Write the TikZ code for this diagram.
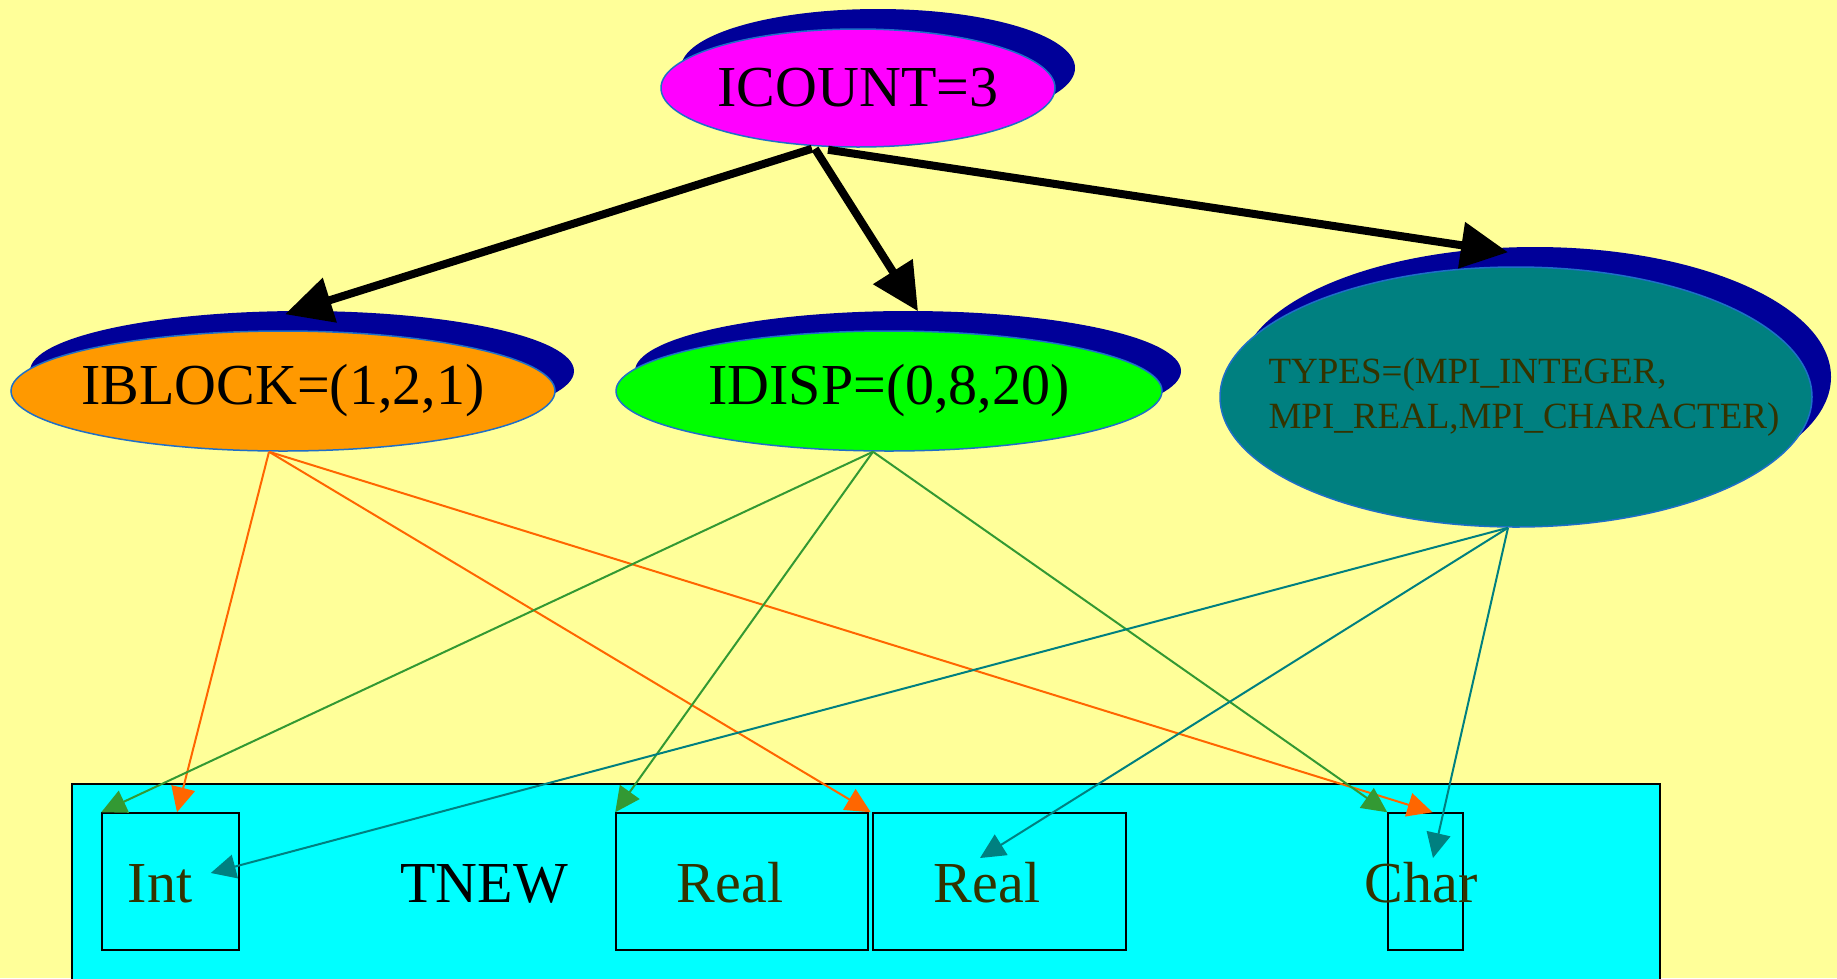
\documentclass[tikz,border=0pt]{standalone}
\usepackage{fontspec}
\setmainfont{Liberation Serif}
\usetikzlibrary{shapes.geometric,arrows.meta,calc}

\definecolor{bgyellow}{HTML}{FFFF99}
\definecolor{shadowblue}{HTML}{000099}
\definecolor{rimblue}{HTML}{1E6FC8}
\definecolor{nodemagenta}{HTML}{FF00FF}
\definecolor{nodeorange}{HTML}{FF9900}
\definecolor{nodegreen}{HTML}{00FF00}
\definecolor{nodeteal}{HTML}{008080}
\definecolor{clustercyan}{HTML}{00FFFF}
\definecolor{labelolive}{HTML}{333300}
\definecolor{edgeorange}{HTML}{FF6600}
\definecolor{edgegreen}{HTML}{339933}
\definecolor{edgeteal}{HTML}{008080}

\begin{document}
\begin{tikzpicture}[x=1pt,y=-1pt,
  % negative horizontal padding keeps the ellipse size fixed by minimum width
  oval/.style={ellipse, draw=rimblue, line width=1.5pt,
    inner xsep=-90pt, inner ysep=0pt,
    font=\fontsize{58}{70}\selectfont},
  shadowoval/.style={ellipse, fill=shadowblue, inner sep=0pt},
  field/.style={rectangle, draw=black, line width=1.5pt, fill=clustercyan,
    inner sep=0pt, minimum height=137pt},
  fieldlabel/.style={anchor=base, text=labelolive, inner sep=0pt,
    font=\fontsize{58}{70}\selectfont},
  bigarrow/.style={line width=8pt, -{Triangle[length=47pt,width=45pt]}},
  thinarrow/.style={line width=2pt, -{Triangle[length=25pt,width=24pt]}},
]
% canvas
\fill[bgyellow] (0,0) rectangle (1837,978);
\useasboundingbox (0,0) rectangle (1837,978);

% root ellipse with its drop shadow
\node[shadowoval, minimum width=394pt, minimum height=118pt] at (878,68) {};
\node[oval, fill=nodemagenta, minimum width=394pt, minimum height=118pt]
  (icount) at (858,88) {ICOUNT=3};

% argument ellipses
\node[shadowoval, minimum width=544pt, minimum height=120pt] at (302,371) {};
\node[oval, fill=nodeorange, minimum width=544pt, minimum height=120pt]
  (iblock) at (283,391) {IBLOCK=(1,2,1)};

\node[shadowoval, minimum width=546pt, minimum height=120pt] at (908,371) {};
\node[oval, fill=nodegreen, minimum width=546pt, minimum height=120pt]
  (idisp) at (889,391) {IDISP=(0,8,20)};

\node[shadowoval, minimum width=592pt, minimum height=260pt] at (1535,377) {};
\node[oval, fill=nodeteal, minimum width=592pt, minimum height=260pt]
  (types) at (1516,397) {};
\node[align=left, text=labelolive, inner sep=0pt,
  font=\fontsize{37}{45}\selectfont] (typeslabel) at (1524,397)
  {TYPES=(MPI\_INTEGER,\\MPI\_REAL,MPI\_CHARACTER)};

% new datatype cluster
\draw[line width=1.5pt, fill=clustercyan] (72,784) rectangle (1660,995);
\node[anchor=base, inner sep=0pt, font=\fontsize{58}{70}\selectfont]
  (tnew) at (484,902) {TNEW};

\node[field, minimum width=137pt] (int)   at (170.5,881.5) {};
\node[field, minimum width=252pt] (real1) at (742,881.5) {};
\node[field, minimum width=253pt] (real2) at (999.5,881.5) {};
\node[field, minimum width=75pt]  (char)  at (1425.5,881.5) {};

\node[fieldlabel] (intlabel)   at (160,902)  {Int};
\node[fieldlabel] (real1label) at (730,902)  {Real};
\node[fieldlabel] (real2label) at (987,902)  {Real};
\node[fieldlabel] (charlabel)  at (1421,902) {Char};

% count -> arguments
\draw[bigarrow] ($(icount.south)+(-46,1)$) -- ($(iblock.north)+(2,-16)$);
\draw[bigarrow] ($(icount.south)+(-43,1)$) -- ($(idisp.north)+(29,-19)$);
\draw[bigarrow] ($(icount.south)+(-30,2)$) -- ($(types.north)+(-8,-14)$);

% block lengths
\draw[thinarrow, edgeorange] ($(iblock.south)+(-14,0)$) -- ($(int.north)+(6.5,0)$);
\draw[thinarrow, edgeorange] ($(iblock.south)+(-14,0)$) -- ($(real1.north east)+(2,0)$);
\draw[thinarrow, edgeorange] ($(iblock.south)+(-14,0)$) -- ($(char.north)+(7,0)$);

% displacements
\draw[thinarrow, edgegreen] ($(idisp.south)+(-16,0)$) -- (int.north west);
\draw[thinarrow, edgegreen] ($(idisp.south)+(-16,0)$) -- (real1.north west);
\draw[thinarrow, edgegreen] ($(idisp.south)+(-16,0)$) -- (char.north west);

% element types
\draw[thinarrow, edgeteal] ($(types.south)+(-8,0)$) -- ($(int.east)+(-29,-8.5)$);
\draw[thinarrow, edgeteal] ($(types.south)+(-8,0)$) -- ($(real2.center)+(-19.5,-23.5)$);
\draw[thinarrow, edgeteal] ($(types.south)+(-8,0)$) -- ($(char.center)+(7.5,-23.5)$);
\end{tikzpicture}
\end{document}
